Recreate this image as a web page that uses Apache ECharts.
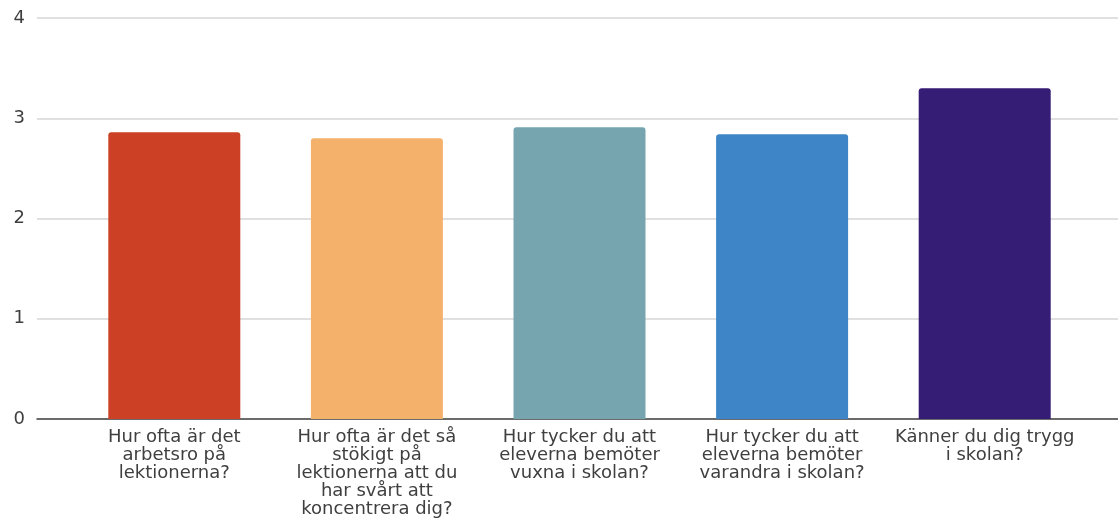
<!DOCTYPE html>
<html>
<head>
<meta charset="utf-8">
<script src="https://cdn.jsdelivr.net/npm/echarts@6/dist/echarts.min.js"></script>
<style>
  html, body { margin: 0; padding: 0; background: #fff; }
  #chart { width: 1118px; height: 527px; }
</style>
</head>
<body>
<div id="chart"></div>
<script>
// Survey questions (x axis)
const categories = [
    'Hur ofta är det\narbetsro på\nlektionerna?',
    'Hur ofta är det så\nstökigt på\nlektionerna att du\nhar svårt att\nkoncentrera dig?',
    'Hur tycker du att\neleverna bemöter\nvuxna i skolan?',
    'Hur tycker du att\neleverna bemöter\nvarandra i skolan?',
    'Känner du dig trygg\ni skolan?'
];
// Average answers
const values = [2.86, 2.80, 2.91, 2.84, 3.30];
const barColors = ['#cc4125', '#f4b16b', '#76a5af', '#3d85c6', '#351c75'];
const yTicks = [0, 1, 2, 3, 4];

document.addEventListener('DOMContentLoaded', function() {
    const chart = echarts.init(document.getElementById('chart'));
    const font = '"DejaVu Sans", sans-serif';

    const option = {
        animation: false,
        grid: [
            // background grid: gridlines and y labels span the full width
            { left: 37, right: 0, top: 18, bottom: 108 },
            // bars
            { left: 73, right: 32, top: 18, bottom: 108 }
        ],
        xAxis: [
            {
                gridIndex: 0,
                type: 'value',
                min: 0,
                max: 1,
                axisLine: { show: true, onZero: false, lineStyle: { color: '#444', width: 1.5 } },
                axisTick: { show: false },
                axisLabel: { show: false },
                splitLine: { show: false }
            },
            {
                gridIndex: 1,
                type: 'category',
                data: categories,
                axisLine: { show: false },
                axisTick: { show: false },
                axisLabel: {
                    interval: 0,
                    margin: 9,
                    color: '#3f3f3f',
                    fontFamily: font,
                    fontSize: 18,
                    lineHeight: 18,
                    align: 'center'
                }
            }
        ],
        yAxis: [
            {
                gridIndex: 0,
                type: 'value',
                min: yTicks[0],
                max: yTicks[yTicks.length - 1],
                interval: 1,
                axisLine: { show: false },
                axisTick: { show: false },
                axisLabel: {
                    margin: 12,
                    color: '#3f3f3f',
                    fontFamily: font,
                    fontSize: 18
                },
                splitLine: { lineStyle: { color: '#d6d6d6', width: 1.5 } }
            },
            {
                gridIndex: 1,
                type: 'value',
                min: yTicks[0],
                max: yTicks[yTicks.length - 1],
                interval: 1,
                show: false,
                splitLine: { show: false }
            }
        ],
        series: [
            {
                type: 'bar',
                xAxisIndex: 1,
                yAxisIndex: 1,
                barWidth: 132,
                data: values.map(function(v, i) {
                    return {
                        value: v,
                        itemStyle: { color: barColors[i], borderRadius: [3, 3, 0, 0] }
                    };
                })
            }
        ]
    };
    chart.setOption(option);
});
</script>
</body>
</html>
